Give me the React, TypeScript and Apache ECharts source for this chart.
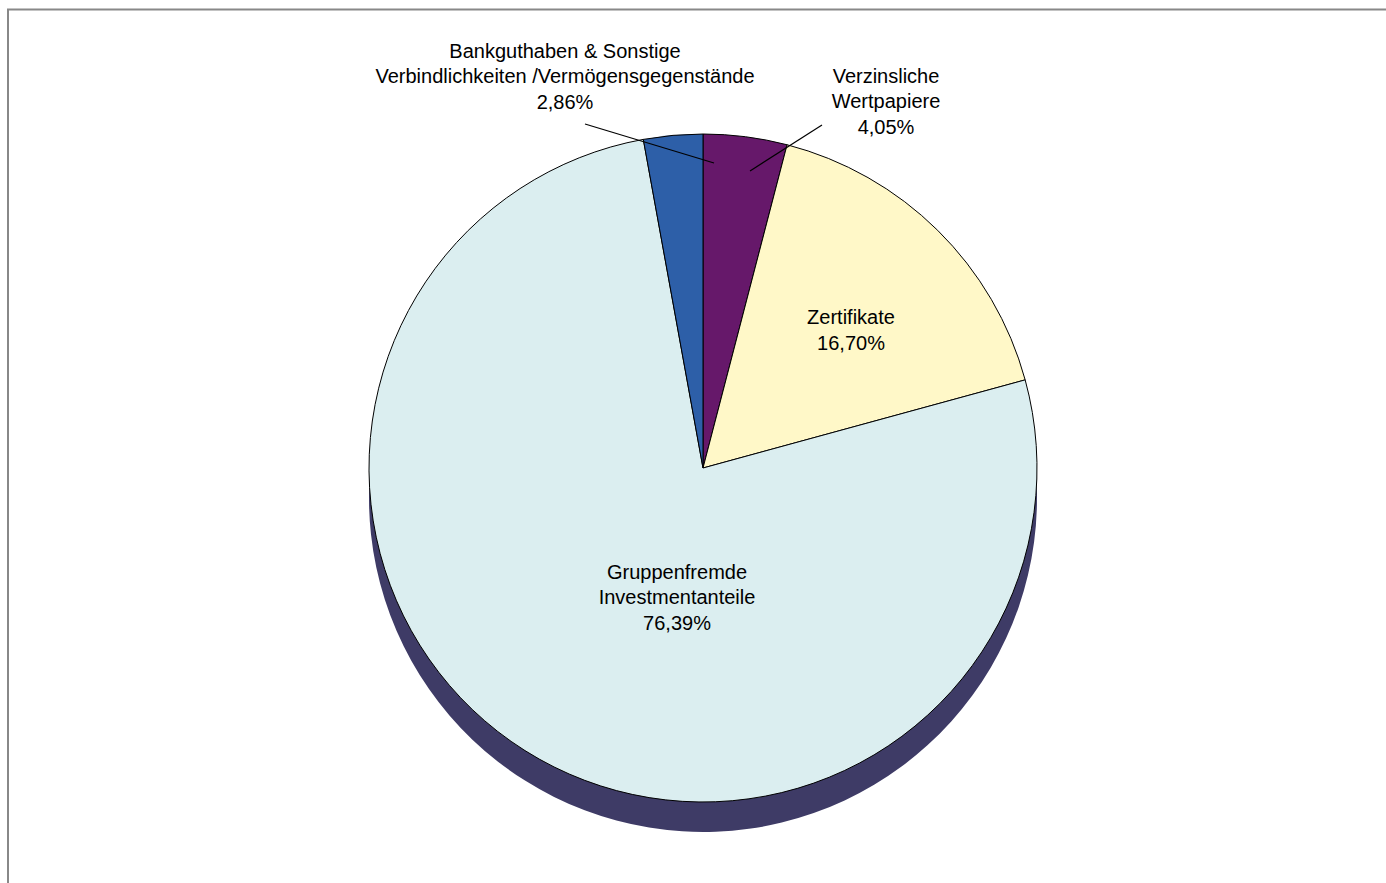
import React, { useEffect, useRef } from "react";
import * as echarts from "echarts";

const names = [
  "Verzinsliche\nWertpapiere",
  "Zertifikate",
  "Gruppenfremde\nInvestmentanteile",
  "Bankguthaben & Sonstige\nVerbindlichkeiten /Vermögensgegenstände",
];
const values = [4.05, 16.7, 76.39, 2.86];
const colors = ["#66186a", "#fff8c8", "#dbeef0", "#2d5fa8"];
const shadowColor = "#3e3b66";

// label anchor positions (layout only)
const labelPos = [
  [886, 101],
  [851, 330],
  [677, 597],
  [565, 76],
];

const fmt = (v: number) => v.toFixed(2).replace(".", ",") + "%";

export default function App() {
  const ref = useRef<HTMLDivElement>(null);
  useEffect(() => {
    if (!ref.current) return;
    const chart = echarts.init(ref.current, undefined, { renderer: "svg" });
    const cx = 703;
    const cy = 468;
    const r = 334;
    const depth = 30;
    chart.setOption({
      animation: false,
      backgroundColor: "#ffffff",
      textStyle: { fontFamily: "'Liberation Sans', Arial, Helvetica, sans-serif" },
      graphic: [
        {
          type: "polyline",
          shape: { points: [[8, 883], [8, 9.5], [1386, 9.5]] },
          style: { stroke: "#888888", lineWidth: 2, fill: "none" },
          z: 100,
        },
        {
          type: "line",
          shape: { x1: 585, y1: 124, x2: 714, y2: 163 },
          style: { stroke: "#000", lineWidth: 1.2 },
          z: 100,
        },
        {
          type: "line",
          shape: { x1: 822, y1: 125, x2: 750, y2: 171 },
          style: { stroke: "#000", lineWidth: 1.2 },
          z: 100,
        },
      ],
      series: [
        {
          type: "pie",
          silent: true,
          center: [cx, cy + depth],
          radius: r,
          startAngle: 90,
          z: 1,
          label: { show: false },
          labelLine: { show: false },
          itemStyle: { color: shadowColor, borderWidth: 0 },
          emphasis: { disabled: true },
          data: values.map((v, i) => ({ name: names[i], value: v })),
        },
        {
          type: "pie",
          silent: true,
          center: [cx, cy],
          radius: r,
          startAngle: 90,
          clockwise: true,
          z: 2,
          emphasis: { disabled: true },
          itemStyle: { borderColor: "#000", borderWidth: 1 },
          label: {
            show: true,
            position: "inside",
            color: "#000",
            fontSize: 20,
            lineHeight: 25.5,
            align: "center",
            fontFamily: "'Liberation Sans', Arial, Helvetica, sans-serif",
            formatter: (p: any) => p.name + "\n" + fmt(p.value),
          },
          labelLine: { show: false },
          labelLayout: (p: any) => ({
            x: labelPos[p.dataIndex][0],
            y: labelPos[p.dataIndex][1],
            align: "center",
            verticalAlign: "middle",
          }),
          data: values.map((v, i) => ({
            name: names[i],
            value: v,
            itemStyle: { color: colors[i] },
          })),
        },
      ],
    });
    return () => chart.dispose();
  }, []);
  return (
    <div
      ref={ref}
      style={{ position: "absolute", left: 0, top: 0, width: 1386, height: 883, overflow: "hidden" }}
    />
  );
}
